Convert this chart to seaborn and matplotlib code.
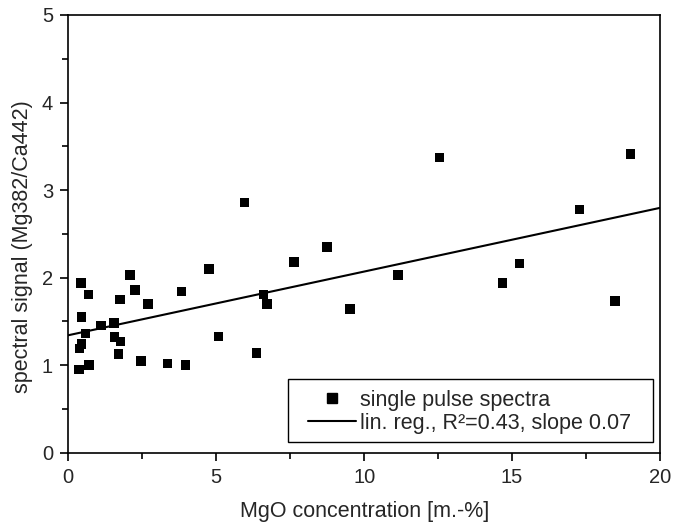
import numpy as np
import pandas as pd
import matplotlib
matplotlib.use("Agg")
import matplotlib.pyplot as plt
import seaborn as sns
from matplotlib.ticker import MultipleLocator
from matplotlib.lines import Line2D
from matplotlib.patches import Rectangle

# Data
mgo = [0.43, 0.69, 0.45, 0.58, 0.45, 0.37, 0.36, 0.70, 1.11, 1.55, 1.56, 1.77,
       1.70, 1.75, 2.08, 2.25, 2.69, 2.46, 3.36, 3.96, 3.82, 4.76, 5.08, 6.36,
       5.95, 6.59, 6.71, 7.63, 8.74, 9.52, 11.14, 12.55, 14.67, 15.26, 17.27,
       18.48, 19.0]
signal = [1.94, 1.81, 1.55, 1.36, 1.24, 1.19, 0.95, 1.00, 1.45, 1.48, 1.32, 1.27,
          1.13, 1.75, 2.03, 1.86, 1.70, 1.05, 1.02, 1.00, 1.84, 2.10, 1.33, 1.14,
          2.86, 1.81, 1.70, 2.18, 2.35, 1.64, 2.03, 3.375, 1.94, 2.16, 2.78,
          1.735, 3.41]
x_label = "MgO concentration [m.-%]"
y_label = "spectral signal (Mg382/Ca442)"
scatter_label = "single pulse spectra"
line_label = "lin. reg., R\u00b2=0.43, slope 0.07"

df = pd.DataFrame({"mgo": mgo, "signal": signal})

sns.set_style("ticks")
plt.rcParams['font.family'] = ['Liberation Sans', 'DejaVu Sans']

fig = plt.figure(figsize=(6.73, 5.24), dpi=100)
ax = fig.add_axes([0.1015, 0.136, 0.8792, 0.8354])
ax.set_xlim(0, 20)
ax.set_ylim(0, 5)

sns.scatterplot(data=df, x="mgo", y="signal", marker="s", s=46, color="black",
                edgecolor="none", linewidth=0, ax=ax, zorder=3)
sns.regplot(data=df, x="mgo", y="signal", scatter=False, truncate=False, ci=None,
            color="black", line_kws={"linewidth": 1.5}, ax=ax)

ax.set_xlim(0, 20)
ax.set_ylim(0, 5)
ax.xaxis.set_major_locator(MultipleLocator(5))
ax.xaxis.set_minor_locator(MultipleLocator(2.5))
ax.yaxis.set_major_locator(MultipleLocator(1))
ax.yaxis.set_minor_locator(MultipleLocator(0.5))
ax.tick_params(which="major", direction="out", length=6, width=1.2, labelsize=14.5,
               color="black", pad=5)
ax.tick_params(which="minor", direction="out", length=4, width=1.2, color="black")
for sp in ax.spines.values():
    sp.set_linewidth(1.2)
    sp.set_color("black")
ax.set_xlabel(x_label, fontsize=15.5, labelpad=10)
ax.set_ylabel(y_label, fontsize=15.5)
ax.yaxis.set_label_coords(-0.06, 0.47)

# legend frame drawn as a box, legend content without frame
ax.add_patch(Rectangle((0.372, 0.025), 0.616, 0.143, transform=ax.transAxes,
                       facecolor="white", edgecolor="black", linewidth=1.0, zorder=4))
h1 = Line2D([], [], marker="s", color="black", linestyle="none", markersize=6.8)
h2 = Line2D([], [], color="black", linewidth=1.5)
leg = ax.legend([h1, h2], [scatter_label, line_label],
                loc="center", bbox_to_anchor=(0.678, 0.094), borderaxespad=0,
                frameon=False, fontsize=15.5, handlelength=2.23, borderpad=0,
                labelspacing=0.1, handletextpad=0.15)
leg.set_zorder(5)

fig.savefig("out.png", dpi=100)
